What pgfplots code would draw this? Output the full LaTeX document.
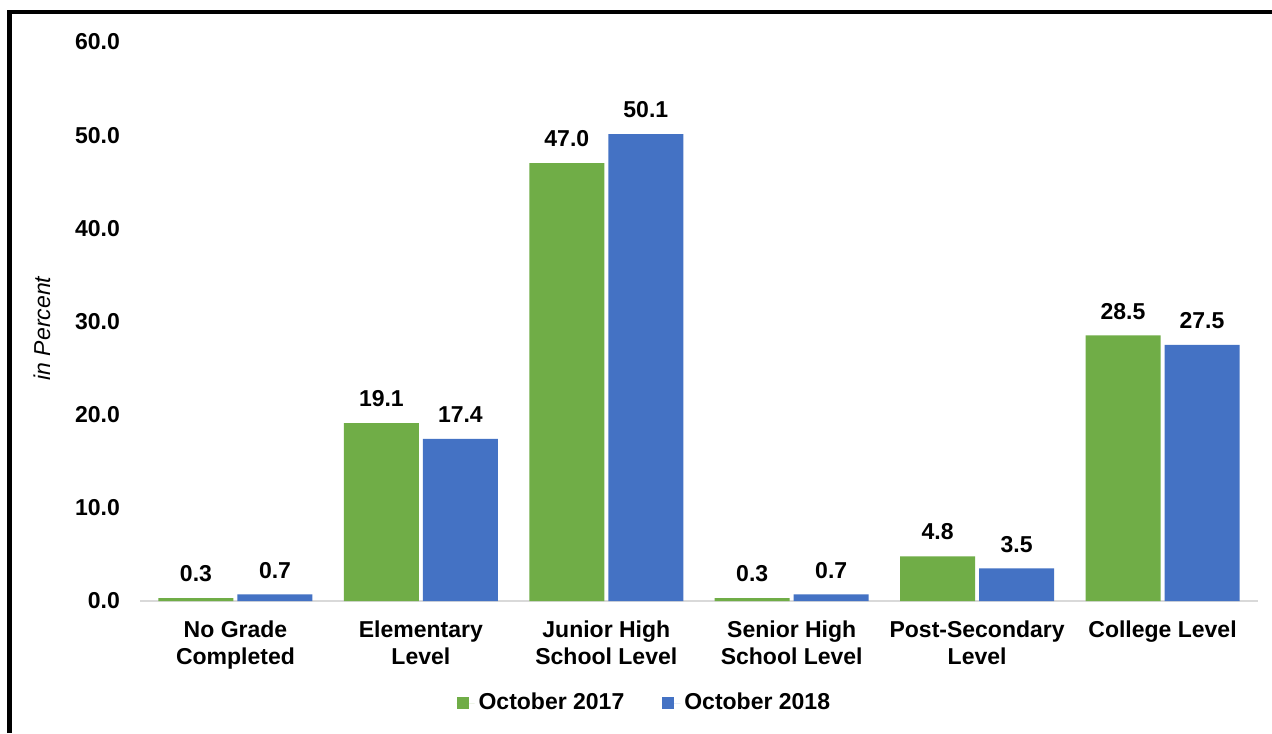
\documentclass[border=0pt]{standalone}
\usepackage{pgfplots}
\pgfplotsset{compat=1.18}
\usepackage{fontspec}
\setmainfont{Liberation Sans}
\definecolor{cgreen}{HTML}{70AD47}
\definecolor{cblue}{HTML}{4472C4}
\newcommand{\bfs}{\fontsize{11.5}{13.5}\selectfont\bfseries}
\begin{document}
\begin{tikzpicture}
\useasboundingbox (0,0) rectangle (636pt,366.5pt);
\fill[white] (0,0) rectangle (636pt,366.5pt);
\draw[line width=2.3pt] (4.85pt,0) -- (4.85pt,360.5pt) -- (636pt,360.5pt);
\begin{axis}[
  at={(70pt,66pt)}, anchor=south west,
  scale only axis, width=559pt, height=279.5pt,
  ybar=2pt, bar width=37.5pt,
  xmin=-0.515, xmax=5.515, ymin=0, ymax=60,
  xtick={0,1,2,3,4,5},
  xticklabels={{No Grade\\Completed},{Elementary\\Level},{Junior High\\School Level},{Senior High\\School Level},{Post-Secondary\\Level},{College Level}},
  ytick={0,10,20,30,40,50,60},
  axis x line*=bottom, axis y line*=left,
  x axis line style={draw=black!15, line width=0.8pt},
  y axis line style={draw=none},
  major tick length=0pt,
  xticklabel style={font=\bfs, align=center, yshift=-6.5pt},
  yticklabel style={font=\bfs, xshift=-6.5pt, /pgf/number format/.cd, fixed, fixed zerofill, precision=1, assume math mode=true},
  ylabel={in Percent},
  ylabel style={font=\fontsize{11.5}{13.5}\selectfont\itshape, at={(axis description cs:-0.0877,0.4875)}, anchor=center},
  nodes near coords={\pgfmathprintnumber[fixed,fixed zerofill,precision=1,assume math mode=true]{\pgfplotspointmeta}},
  every node near coord/.append style={font=\bfs, yshift=4.5pt, black},
  legend style={at={(axis description cs:0.452,-0.1825)}, anchor=center, draw=none, font=\bfs,
    /tikz/every even column/.append style={column sep=17pt}},
  legend columns=2,
  legend image code/.code={\fill[#1] (0pt,-3pt) rectangle (6pt,3pt); \path (0pt,0pt) -- (9pt,0pt);},
]
\addplot[fill=cgreen, draw=none] coordinates {(0,0.3) (1,19.1) (2,47.0) (3,0.3) (4,4.8) (5,28.5)};
\addplot[fill=cblue, draw=none] coordinates {(0,0.7) (1,17.4) (2,50.1) (3,0.7) (4,3.5) (5,27.5)};
\legend{October 2017, October 2018}
\end{axis}
\end{tikzpicture}
\end{document}
